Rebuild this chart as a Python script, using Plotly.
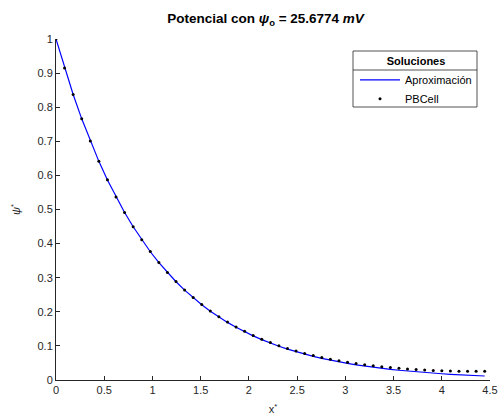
import plotly.graph_objects as go

x_vals = [0.0, 0.0889, 0.1778, 0.2667, 0.3556, 0.4445, 0.5334, 0.6223, 0.7112, 0.8001,
          0.889, 0.9779, 1.0668, 1.1557, 1.2446, 1.3335, 1.4224, 1.5113, 1.6002, 1.6891,
          1.778, 1.8669, 1.9558, 2.0447, 2.1336, 2.2225, 2.3114, 2.4003, 2.4892, 2.5781,
          2.667, 2.7559, 2.8448, 2.9337, 3.0226, 3.1115, 3.2004, 3.2893, 3.3782, 3.4671,
          3.556, 3.6449, 3.7338, 3.8227, 3.9116, 4.0005, 4.0894, 4.1783, 4.2672, 4.3561, 4.445]

aprox = [1.0, 0.91494, 0.83711, 0.76590, 0.70076, 0.64115, 0.58661, 0.53671, 0.49105, 0.44928,
         0.41107, 0.37610, 0.34411, 0.31483, 0.28805, 0.26355, 0.24113, 0.22062, 0.20185, 0.18468,
         0.16897, 0.15460, 0.14145, 0.12941, 0.11841, 0.10833, 0.09912, 0.09069, 0.08297, 0.07591,
         0.06946, 0.06355, 0.05815, 0.05320, 0.04868, 0.04453, 0.04075, 0.03728, 0.03411, 0.03121,
         0.02855, 0.02612, 0.02390, 0.02187, 0.02001, 0.01831, 0.01675, 0.01533, 0.01402, 0.01283, 0.01174]

pbcell = [1.0002, 0.9151, 0.8373, 0.7661, 0.7010, 0.6414, 0.5869, 0.5370, 0.4914, 0.4496,
          0.4115, 0.3765, 0.3446, 0.3153, 0.2886, 0.2642, 0.2418, 0.2213, 0.2026, 0.1855,
          0.1699, 0.1556, 0.1426, 0.1306, 0.1198, 0.1098, 0.1007, 0.0925, 0.0849, 0.0780,
          0.0718, 0.0661, 0.0609, 0.0562, 0.0520, 0.0481, 0.0447, 0.0416, 0.0388, 0.0363,
          0.0341, 0.0322, 0.0305, 0.0290, 0.0278, 0.0268, 0.0261, 0.0257, 0.0256, 0.0255, 0.0254]

x_ticks = [0, 0.5, 1, 1.5, 2, 2.5, 3, 3.5, 4, 4.5]
x_tick_labels = ["0", "0.5", "1", "1.5", "2", "2.5", "3", "3.5", "4", "4.5"]
y_ticks = [0, 0.1, 0.2, 0.3, 0.4, 0.5, 0.6, 0.7, 0.8, 0.9, 1]
y_tick_labels = ["0", "0.1", "0.2", "0.3", "0.4", "0.5", "0.6", "0.7", "0.8", "0.9", "1"]

FONT = "Liberation Sans, Arial, sans-serif"
AX = "#262626"

# plot area in pixels (for placing legend frame)
L, R, T, B = 56, 490, 39, 380
def px(xp):
    return (xp - L) / (R - L)
def py(yp):
    return (B - yp) / (B - T)

fig = go.Figure()
fig.add_trace(go.Scatter(x=x_vals, y=aprox, mode="lines", name="Aproximación",
                         line=dict(color="#0000ff", width=1.2)))
fig.add_trace(go.Scatter(x=x_vals, y=pbcell, mode="markers", name="PBCell",
                         marker=dict(color="black", size=3)))

fig.update_layout(
    width=501, height=416,
    margin=dict(l=L, r=501 - R, t=T, b=416 - B, autoexpand=False),
    paper_bgcolor="white", plot_bgcolor="white",
    font=dict(family=FONT, size=11, color=AX),
    title=dict(text="<b>Potencial con <i>ψ</i><sub>o</sub> = 25.6774 <i>mV</i></b>",
               x=0.53, xanchor="center", y=0.955, yanchor="middle",
               font=dict(family=FONT, size=13.5, color="black")),
    showlegend=True,
    legend=dict(x=px(355), xanchor="left", y=py(51), yanchor="top",
                bgcolor="rgba(0,0,0,0)", borderwidth=0,
                font=dict(family=FONT, size=11, color="black"),
                title=dict(text="<b>Soluciones</b>", side="top center",
                           font=dict(family=FONT, size=11, color="black")),
                tracegroupgap=0, itemwidth=40),
    shapes=[
        dict(type="rect", xref="paper", yref="paper", layer="below",
             x0=px(353), x1=px(477), y0=py(107), y1=py(51),
             fillcolor="white", line=dict(color=AX, width=0.8)),
        dict(type="line", xref="paper", yref="paper",
             x0=px(353), x1=px(477), y0=py(70), y1=py(70),
             line=dict(color=AX, width=0.8)),
    ],
)
fig.update_xaxes(range=[0, 4.5], tickmode="array", tickvals=x_ticks, ticktext=x_tick_labels,
                 ticks="inside", ticklen=4, tickcolor=AX, showline=True, linecolor=AX,
                 linewidth=1, showgrid=False, zeroline=False, mirror=False, automargin=False,
                 tickfont=dict(size=11, color=AX),
                 title=dict(text="x<sup>*</sup>", font=dict(size=11, color=AX), standoff=10))
fig.update_yaxes(range=[0, 1], tickmode="array", tickvals=y_ticks, ticktext=y_tick_labels,
                 ticks="inside", ticklen=4, tickcolor=AX, showline=True, linecolor=AX,
                 linewidth=1, showgrid=False, zeroline=False, mirror=False, automargin=False,
                 tickfont=dict(size=11, color=AX),
                 title=dict(text="<i>ψ</i><sup>*</sup>", font=dict(size=11, color=AX), standoff=14))

fig.write_html("out.html")
